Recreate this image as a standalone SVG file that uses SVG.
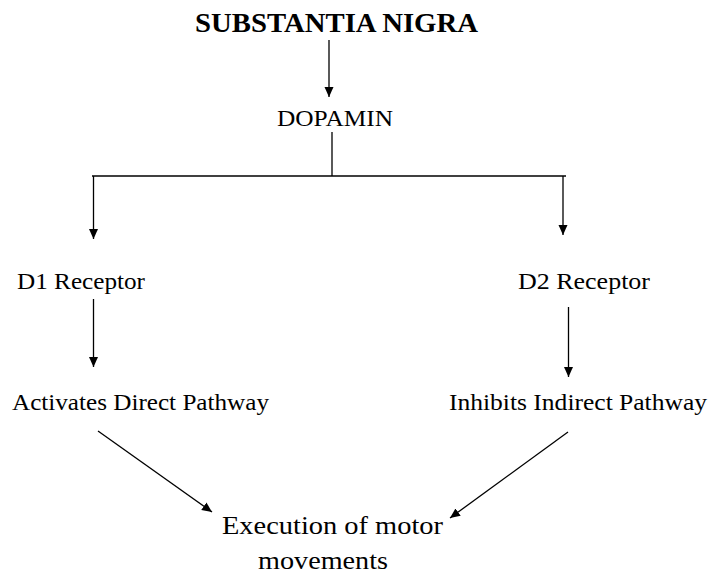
<svg xmlns="http://www.w3.org/2000/svg" width="712" height="574" viewBox="0 0 712 574">
<style>
text{font-family:"Liberation Serif","Times New Roman",serif;fill:#000}
.t{font-size:23px}
.c{stroke:#000;stroke-width:1.3;fill:none}
</style>
<defs>
<marker id="ah" viewBox="0 0 10 10" refX="10" refY="5" markerWidth="7" markerHeight="7" markerUnits="userSpaceOnUse" orient="auto">
<path d="M0,0 L10,5 L0,10 Z" fill="#000"/>
</marker>
<marker id="ah2" viewBox="0 0 10 10" refX="10" refY="5" markerWidth="10" markerHeight="10" orient="auto" markerUnits="userSpaceOnUse">
<path d="M0,0.5 L10,5 L0,9.5 Z" fill="#000"/>
</marker>
</defs>
<rect width="712" height="574" fill="#fff"/>
<g id="substantia"><text x="195" y="32" font-size="27" font-weight="bold" textLength="283" lengthAdjust="spacingAndGlyphs">SUBSTANTIA NIGRA</text></g>
<g id="dopamin"><text class="t" x="277" y="126" textLength="116" lengthAdjust="spacingAndGlyphs">DOPAMIN</text></g>
<g id="d1"><text class="t" x="17" y="289" textLength="128" lengthAdjust="spacingAndGlyphs">D1 Receptor</text></g>
<g id="d2"><text class="t" x="518" y="289" textLength="132" lengthAdjust="spacingAndGlyphs">D2 Receptor</text></g>
<g id="direct"><text class="t" x="12" y="410" textLength="257" lengthAdjust="spacingAndGlyphs">Activates Direct Pathway</text></g>
<g id="indirect"><text class="t" x="449" y="410" textLength="258" lengthAdjust="spacingAndGlyphs">Inhibits Indirect Pathway</text></g>
<g id="execution"><text x="222" y="534" font-size="26" textLength="221" lengthAdjust="spacingAndGlyphs">Execution of motor</text><text x="258" y="569" font-size="26" textLength="130" lengthAdjust="spacingAndGlyphs">movements</text></g>
<g id="connectors" class="c">
<line x1="329" y1="40" x2="329" y2="97" marker-end="url(#ah2)"/>
<polyline points="332,132 332,176"/>
<line x1="92" y1="176" x2="566" y2="176"/>
<line x1="93.5" y1="176" x2="93.5" y2="239" marker-end="url(#ah2)"/>
<line x1="563" y1="176" x2="563" y2="235" marker-end="url(#ah2)"/>
<line x1="93.5" y1="299" x2="93.5" y2="367" marker-end="url(#ah2)"/>
<line x1="568.5" y1="307" x2="568.5" y2="377" marker-end="url(#ah2)"/>
<line x1="98" y1="431" x2="212" y2="512" marker-end="url(#ah2)"/>
<line x1="568" y1="432" x2="450" y2="518" marker-end="url(#ah2)"/>
</g>
</svg>
